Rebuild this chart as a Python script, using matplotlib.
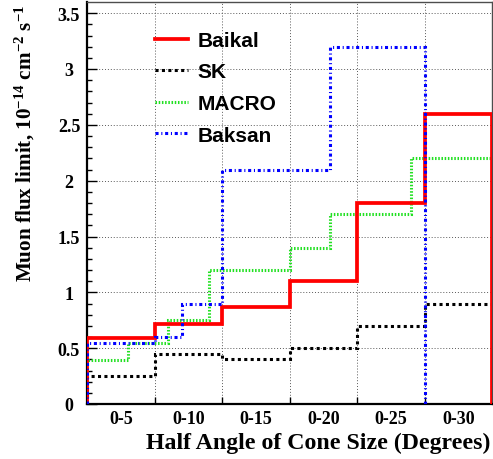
import matplotlib
matplotlib.use("Agg")
import matplotlib.pyplot as plt
from matplotlib.lines import Line2D
import numpy as np

# ---- data ----
bin_edges = [0, 5, 10, 15, 20, 25, 30]
bin_labels = ["0-5", "0-10", "0-15", "0-20", "0-25", "0-30"]
baikal = [0.59, 0.72, 0.87, 1.10, 1.80, 2.60]
sk = [0.25, 0.45, 0.40, 0.50, 0.70, 0.90]
macro_edges = [0, 3, 6, 9, 15, 18, 24, 30]
macro = [0.39, 0.55, 0.75, 1.20, 1.40, 1.70, 2.20]
baksan_edges = [0, 5, 7, 10, 18, 25]
baksan = [0.55, 0.60, 0.90, 2.10, 3.20]
series_names = ["Baikal", "SK", "MACRO", "Baksan"]

plt.rcParams['mathtext.fontset'] = 'custom'
plt.rcParams['mathtext.rm'] = 'Liberation Serif:bold'
plt.rcParams['mathtext.it'] = 'Liberation Serif:bold'
plt.rcParams['mathtext.bf'] = 'Liberation Serif:bold'
plt.rcParams['mathtext.default'] = 'rm'

W, H = 493, 460
fig = plt.figure(figsize=(W / 100, H / 100), dpi=100)
L, R, B, T = 87, 492, 405, 3
ax = fig.add_axes([L / W, 1 - B / H, (R - L) / W, (B - T) / H])

ax.set_xlim(0, 30)
ax.set_ylim(0, 3.6)

styles = {
    "Baikal": dict(color="#ff0000", lw=2.7, linestyle="-"),
    "SK": dict(color="black", lw=2.2, linestyle=(0, (1, 1.1))),
    "MACRO": dict(color="#22e022", lw=2.2, linestyle=(0, (0.5, 0.55))),
    "Baksan": dict(color="#0000ff", lw=2.2, linestyle=(0, (1, 0.9, 0.35, 0.9))),
}

ax.stairs(baikal, bin_edges, baseline=0, zorder=5, **styles["Baikal"])
ax.stairs(sk, bin_edges, baseline=0, zorder=4, **styles["SK"])
ax.stairs(macro, macro_edges, baseline=0, zorder=3, **styles["MACRO"])
ax.stairs(baksan, baksan_edges, baseline=0, zorder=6, **styles["Baksan"])

# grid
ax.set_axisbelow(True)
ax.set_xticks(bin_edges[1:-1])
ax.set_xticklabels([])
centers = [(bin_edges[i] + bin_edges[i + 1]) / 2 for i in range(len(bin_labels))]
ax.set_xticks(centers, minor=True)
ax.set_xticklabels(bin_labels, minor=True, fontfamily="Liberation Serif",
                   fontweight="bold", fontsize=13)
ax.tick_params(axis="x", which="major", direction="in", length=5, width=1, top=False)
ax.tick_params(axis="x", which="minor", length=0, pad=4)

yt = np.arange(0, 3.51, 0.5)
ax.set_yticks(yt)
ax.set_yticklabels(["0", "0.5", "1", "1.5", "2", "2.5", "3", "3.5"],
                   fontfamily="Liberation Serif", fontweight="bold", fontsize=13,
                   ha="center")
ax.set_yticks(np.arange(0, 3.6, 0.1), minor=True)
ax.tick_params(axis="y", which="major", direction="in", length=7, width=1, pad=13)
ax.tick_params(axis="y", which="minor", direction="in", length=3.3, width=1)

ax.grid(True, which="major", color="0.35", linestyle=(0, (1, 2)), linewidth=0.7)

for s in ["left", "bottom"]:
    ax.spines[s].set_linewidth(1.6)
for s in ["top", "right"]:
    ax.spines[s].set_linewidth(1.0)
    ax.spines[s].set_color("0.3")

handles = [Line2D([], [], **styles[n]) for n in series_names]
leg = ax.legend(handles, series_names, loc="upper left",
                bbox_to_anchor=((155 - L) / (R - L), (B - 32) / (B - T)),
                frameon=False, borderpad=0, borderaxespad=0,
                handlelength=1.6, handletextpad=0.45, labelspacing=0.6,
                prop=dict(family="Liberation Sans", weight="bold", size=15))

fig.text(25 / W, 1 - 5 / H,
         r"Muon flux limit, 10$^{-14}$ cm$^{-2}$ s$^{-1}$",
         rotation=90, ha="center", va="top",
         fontfamily="Liberation Serif", fontweight="bold", fontsize=15.2)
fig.text(490 / W, 1 - 443 / H, "Half Angle of Cone Size (Degrees)",
         ha="right", va="center",
         fontfamily="Liberation Serif", fontweight="bold", fontsize=17.2)

fig.savefig("out.png", dpi=100)
